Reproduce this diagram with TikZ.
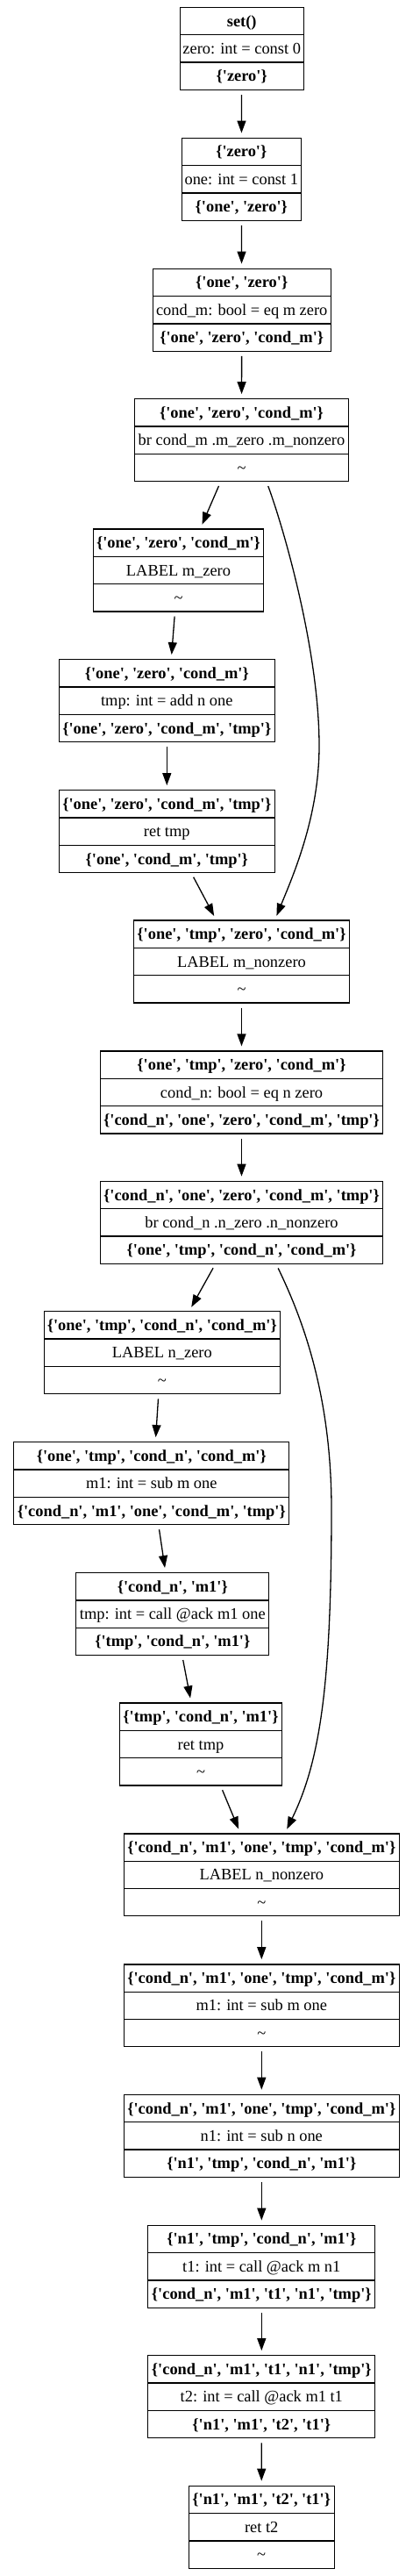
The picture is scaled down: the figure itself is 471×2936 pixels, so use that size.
\documentclass[tikz,border=0pt]{standalone}
\usepackage{fontspec}
\setmainfont{Liberation Serif}
\usetikzlibrary{shapes.multipart,arrows.meta}

\newcommand{\vq}[1]{\textquotesingle#1\textquotesingle}
\newcommand{\rowstrut}{\rule[-9pt]{0pt}{30pt}}
\newcommand{\blkrows}[3]{\rowstrut\textbf{#1}\nodepart{two}\rowstrut#2\nodepart{three}\rowstrut#3}
\newcommand{\vset}[1]{\textbf{\{#1\}}}
\newcommand{\nix}{\textasciitilde}

\begin{document}
\begin{tikzpicture}[x=1pt,y=-1pt,
	blk/.style={draw,line width=1.3pt,rectangle split,rectangle split parts=3,inner xsep=2pt,inner ysep=0pt,font=\fontsize{18.4}{22}\selectfont},
	flow/.style={-{Triangle[length=14pt,width=10pt]},line width=1.3pt,shorten <=5pt,shorten >=5pt}]
	\useasboundingbox (0,0) rectangle (471,2936);
	
	%blocks, first function part
	\node[blk,minimum width=141pt] (set) at (275.7,55.5) {\blkrows{set()}{zero: int = const 0}{\vset{\vq{zero}}}};
	\node[blk,minimum width=136pt] (one) at (275.3,204.2) {\blkrows{\{\vq{zero}\}}{one: int = const 1}{\vset{\vq{one}, \vq{zero}}}};
	\node[blk,minimum width=203pt] (condm) at (275.7,353.2) {\blkrows{\{\vq{one}, \vq{zero}\}}{cond\_m: bool = eq m zero}{\vset{\vq{one}, \vq{zero}, \vq{cond\_m}}}};
	\node[blk,minimum width=244pt] (brm) at (275.5,501.7) {\blkrows{\{\vq{one}, \vq{zero}, \vq{cond\_m}\}}{br cond\_m .m\_zero .m\_nonzero}{\nix}};
	\node[blk,minimum width=194pt] (mzero) at (203.5,650) {\blkrows{\{\vq{one}, \vq{zero}, \vq{cond\_m}\}}{LABEL m\_zero}{\nix}};
	\node[blk,minimum width=246pt] (addtmp) at (190.3,798.7) {\blkrows{\{\vq{one}, \vq{zero}, \vq{cond\_m}\}}{tmp: int = add n one}{\vset{\vq{one}, \vq{zero}, \vq{cond\_m}, \vq{tmp}}}};
	\node[blk,minimum width=246pt] (retm) at (190.3,947.7) {\blkrows{\{\vq{one}, \vq{zero}, \vq{cond\_m}, \vq{tmp}\}}{ret tmp}{\vset{\vq{one}, \vq{cond\_m}, \vq{tmp}}}};
	\node[blk,minimum width=246pt] (mnonzero) at (275.5,1096) {\blkrows{\{\vq{one}, \vq{tmp}, \vq{zero}, \vq{cond\_m}\}}{LABEL m\_nonzero}{\nix}};
	\node[blk,minimum width=322pt] (condn) at (275.5,1245) {\blkrows{\{\vq{one}, \vq{tmp}, \vq{zero}, \vq{cond\_m}\}}{cond\_n: bool = eq n zero}{\vset{\vq{cond\_n}, \vq{one}, \vq{zero}, \vq{cond\_m}, \vq{tmp}}}};
	
	%blocks, second part
	\node[blk,minimum width=322pt] (brn) at (275.5,1393.3) {\blkrows{\{\vq{cond\_n}, \vq{one}, \vq{zero}, \vq{cond\_m}, \vq{tmp}\}}{br cond\_n .n\_zero .n\_nonzero}{\vset{\vq{one}, \vq{tmp}, \vq{cond\_n}, \vq{cond\_m}}}};
	\node[blk,minimum width=269pt] (nzero) at (184.8,1541.7) {\blkrows{\{\vq{one}, \vq{tmp}, \vq{cond\_n}, \vq{cond\_m}\}}{LABEL n\_zero}{\nix}};
	\node[blk,minimum width=314pt] (subm) at (172.8,1690.7) {\blkrows{\{\vq{one}, \vq{tmp}, \vq{cond\_n}, \vq{cond\_m}\}}{m1: int = sub m one}{\vset{\vq{cond\_n}, \vq{m1}, \vq{one}, \vq{cond\_m}, \vq{tmp}}}};
	\node[blk,minimum width=220pt] (callm) at (196.8,1839.5) {\blkrows{\{\vq{cond\_n}, \vq{m1}\}}{tmp: int = call @ack m1 one}{\vset{\vq{tmp}, \vq{cond\_n}, \vq{m1}}}};
	\node[blk,minimum width=185pt] (retn) at (229,1988) {\blkrows{\{\vq{tmp}, \vq{cond\_n}, \vq{m1}\}}{ret tmp}{\nix}};
	\node[blk,minimum width=314pt] (nnonzero) at (298.3,2136.8) {\blkrows{\{\vq{cond\_n}, \vq{m1}, \vq{one}, \vq{tmp}, \vq{cond\_m}\}}{LABEL n\_nonzero}{\nix}};
	\node[blk,minimum width=314pt] (submb) at (298.3,2285.8) {\blkrows{\{\vq{cond\_n}, \vq{m1}, \vq{one}, \vq{tmp}, \vq{cond\_m}\}}{m1: int = sub m one}{\nix}};
	\node[blk,minimum width=314pt] (subn) at (298.3,2434.3) {\blkrows{\{\vq{cond\_n}, \vq{m1}, \vq{one}, \vq{tmp}, \vq{cond\_m}\}}{n1: int = sub n one}{\vset{\vq{n1}, \vq{tmp}, \vq{cond\_n}, \vq{m1}}}};
	\node[blk,minimum width=259pt] (callt) at (298.3,2583.2) {\blkrows{\{\vq{n1}, \vq{tmp}, \vq{cond\_n}, \vq{m1}\}}{t1: int = call @ack m n1}{\vset{\vq{cond\_n}, \vq{m1}, \vq{t1}, \vq{n1}, \vq{tmp}}}};
	\node[blk,minimum width=259pt] (callu) at (298.3,2731.7) {\blkrows{\{\vq{cond\_n}, \vq{m1}, \vq{t1}, \vq{n1}, \vq{tmp}\}}{t2: int = call @ack m1 t1}{\vset{\vq{n1}, \vq{m1}, \vq{t2}, \vq{t1}}}};
	\node[blk,minimum width=166pt] (rett) at (298.2,2880.2) {\blkrows{\{\vq{n1}, \vq{m1}, \vq{t2}, \vq{t1}\}}{ret t2}{\nix}};
	
	%bends of the long edges
	\coordinate (mbend) at (364,850);
	\coordinate (nbend) at (378,1720);
	
	%edges
	\draw[flow] (set) -- (one);
	\draw[flow] (one) -- (condm);
	\draw[flow] (condm) -- (brm);
	\draw[flow] ([xshift=-24pt]brm.south) -- ([xshift=25pt]mzero.north);		%m_zero branch
	\draw[flow] ([xshift=-4pt]mzero.south) -- ([xshift=5pt]addtmp.north);
	\draw[flow] (addtmp) -- (retm);
	\draw[flow] ([xshift=28pt]retm.south) -- ([xshift=-29pt]mnonzero.north);
	\draw[flow] ([xshift=28.5pt]brm.south) .. controls +(18,48) and +(0,-110) .. (mbend)
		.. controls +(0,80) and +(21,-51) .. ([xshift=38pt]mnonzero.north);		%m_nonzero branch
	\draw[flow] (mnonzero) -- (condn);
	\draw[flow] (condn) -- (brn);
	\draw[flow] ([xshift=-30pt]brn.south) -- ([xshift=31pt]nzero.north);		%n_zero branch
	\draw[flow] ([xshift=-4pt]nzero.south) -- ([xshift=4.5pt]subm.north);
	\draw[flow] ([xshift=8pt]subm.south) -- ([xshift=-8pt]callm.north);
	\draw[flow] ([xshift=11pt]callm.south) -- ([xshift=-11pt]retn.north);
	\draw[flow] ([xshift=22.7pt]retn.south) -- ([xshift=-24.3pt]nnonzero.north);
	\draw[flow] ([xshift=39.5pt]brn.south) .. controls +(30,62) and +(0,-130) .. (nbend)
		.. controls +(0,200) and +(40,-82) .. ([xshift=26.7pt]nnonzero.north);	%n_nonzero branch
	\draw[flow] (nnonzero) -- (submb);
	\draw[flow] (submb) -- (subn);
	\draw[flow] (subn) -- (callt);
	\draw[flow] (callt) -- (callu);
	\draw[flow] (callu) -- (rett);
\end{tikzpicture}
\end{document}
